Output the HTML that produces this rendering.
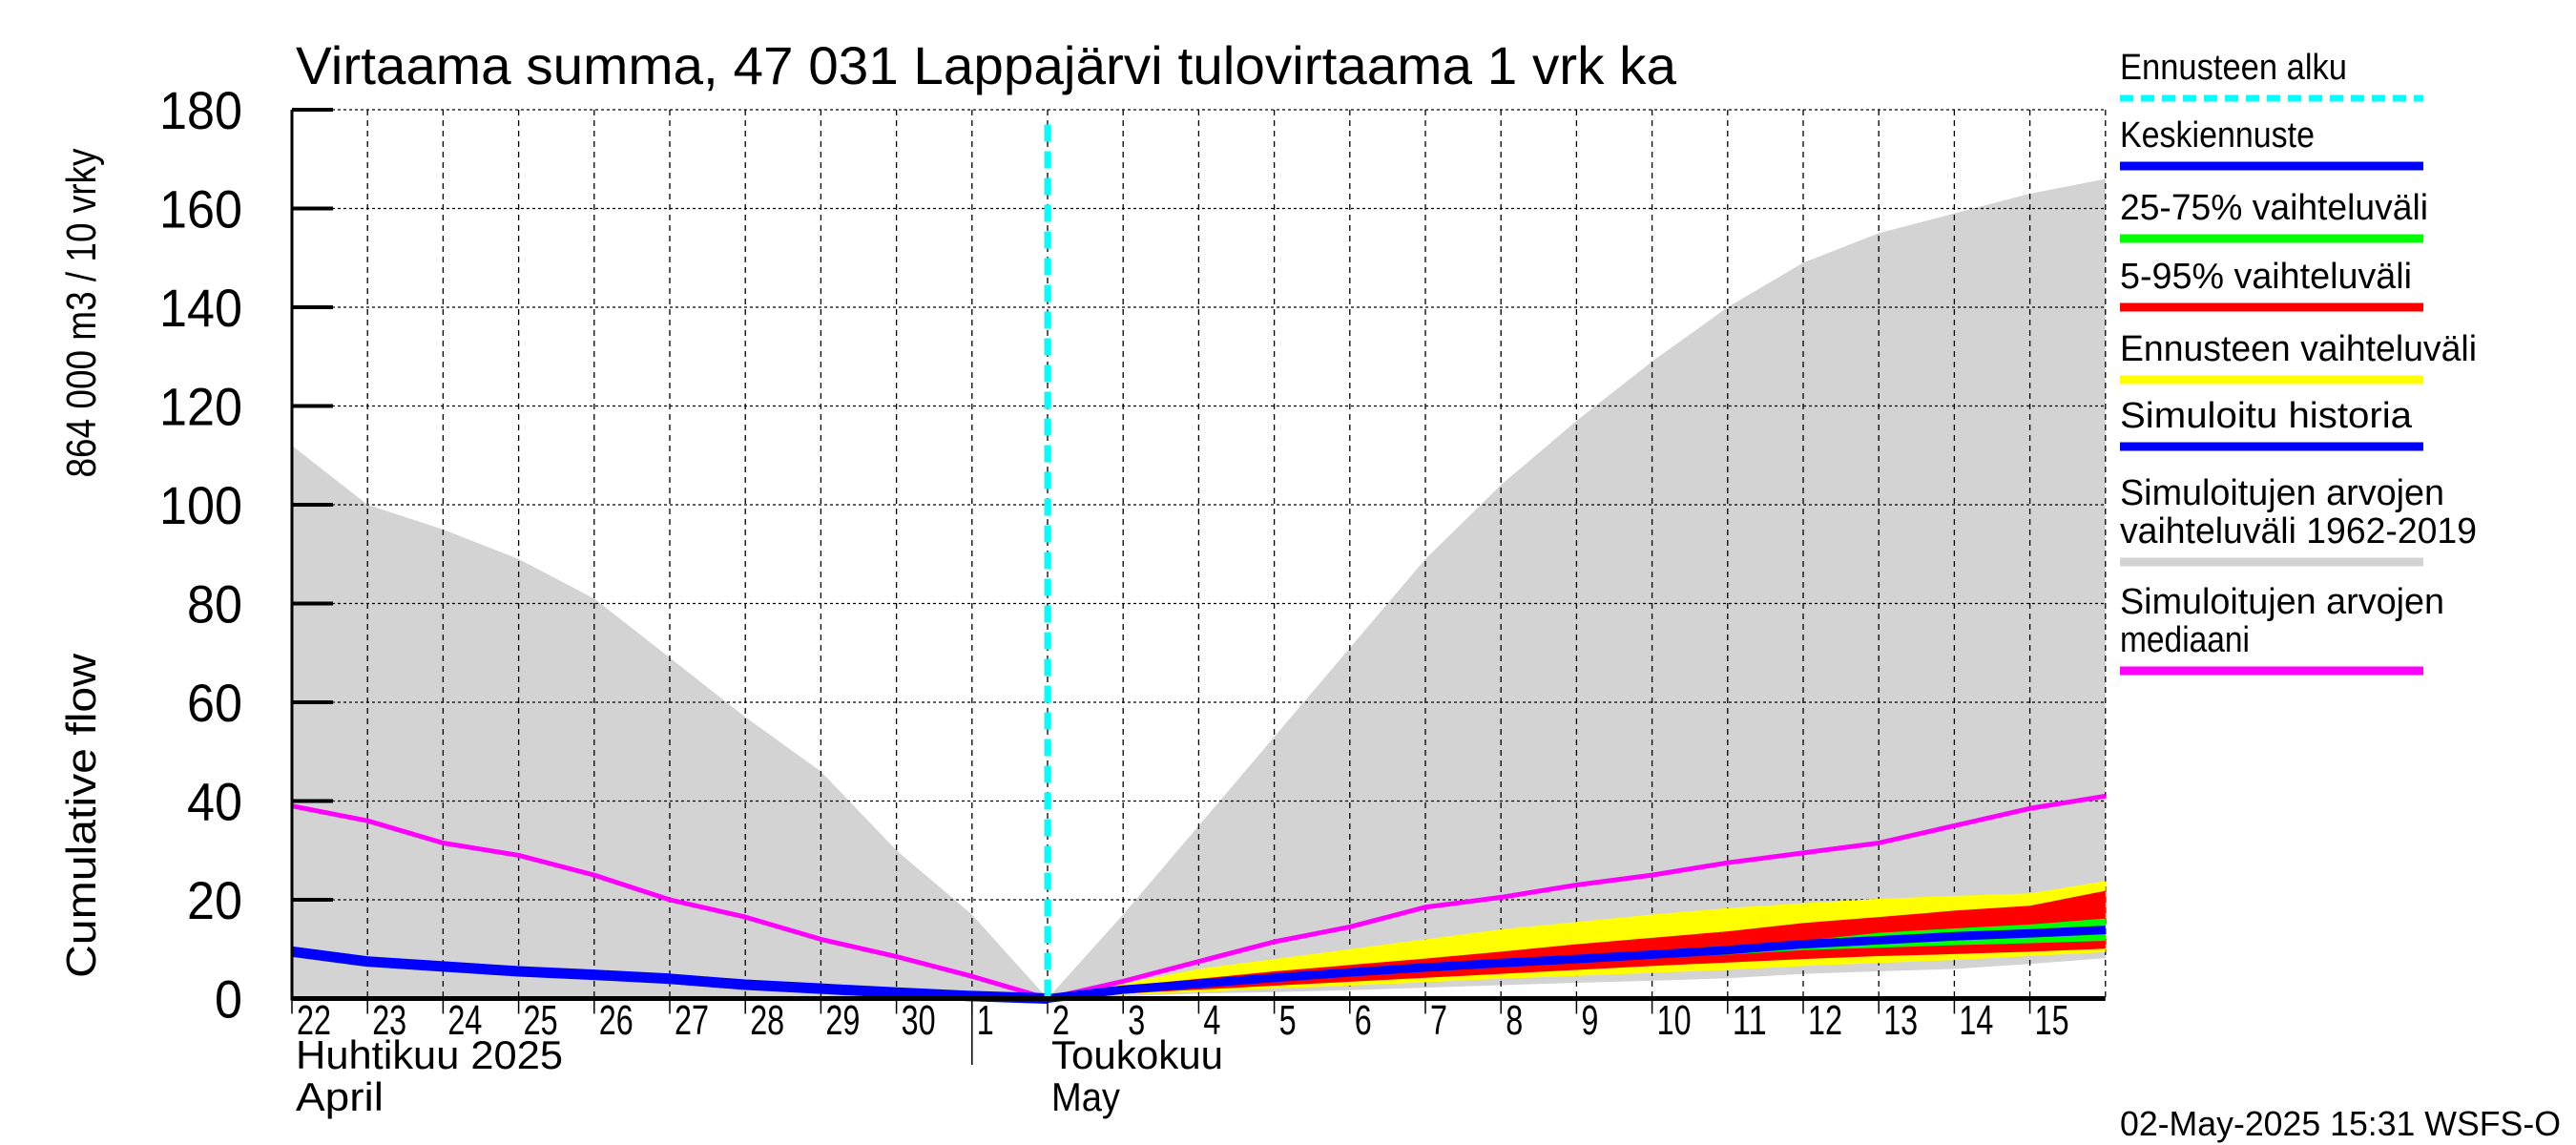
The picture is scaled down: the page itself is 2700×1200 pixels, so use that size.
<!DOCTYPE html>
<html><head><meta charset="utf-8"><style>
html,body{margin:0;padding:0;background:#fff}
svg{display:block;font-family:"Liberation Sans",sans-serif}
</style></head><body>
<svg id="chart" width="2700" height="1200" viewBox="0 0 2700 1200" xmlns="http://www.w3.org/2000/svg">
<g id="plot"></g>
<g id="axes"></g>
<g id="legend"></g>
<text x="310" y="88" font-size="56" textLength="1447" lengthAdjust="spacingAndGlyphs">Virtaama summa, 47 031 Lappajärvi tulovirtaama 1 vrk ka</text>
<text transform="translate(100,855) rotate(-90)" font-size="44" text-anchor="middle" textLength="340" lengthAdjust="spacingAndGlyphs">Cumulative flow</text>
<text transform="translate(100,328) rotate(-90)" font-size="44" text-anchor="middle" textLength="345" lengthAdjust="spacingAndGlyphs">864 000 m3 / 10 vrky</text>
<text x="2222" y="1190" font-size="36" textLength="462" lengthAdjust="spacingAndGlyphs">02-May-2025 15:31 WSFS-O</text>
</svg>
<script>
// ---- data (day index 0 = 22 April) ----
const dayLabels = ["22","23","24","25","26","27","28","29","30","1","2","3","4","5","6","7","8","9","10","11","12","13","14","15"];
const yTicks = [0,20,40,60,80,100,120,140,160,180];
const histDays = [0,1,2,3,4,5,6,7,8,9,10];
const histUpper = [112,100,95,89,81,69,57,46,30,17,0];
const histBlue = [9.5,7.5,6.5,5.5,4.8,4,2.8,2,1.2,0.5,0];
const fcDays = [10,11,12,13,14,15,16,17,18,19,20,21,22,23,24];
const fcRangeUpper = [0,17,35,53,71,89,104,117,129,140,149,155,159,163,166];
const fcRangeLower = [0,0.5,1,1.3,1.7,2.2,2.7,3.2,3.6,4.1,5,5.5,6,7,8.2];
const yellowUpper = [0,3,6,8,10,12,14,15.5,17,18.3,19.3,20.2,20.8,21.3,23.8];
const redUpper = [0,2.5,4,5.5,6.8,8.1,9.5,11,12.3,13.6,15.3,16.5,17.8,18.8,21.8];
const greenUpper = [0,2.3,3.5,4.7,5.8,6.8,7.8,8.7,9.7,10.7,11.7,13.3,14.2,15,16.2];
const meanFc = [0,1.8,3,4.2,5.3,6.3,7.2,8,8.9,9.8,11,11.8,12.6,13.2,13.9];
const greenLower = [0,1.4,2.5,3.6,4.6,5.6,6.5,7.3,8.1,8.9,9.8,10.3,10.8,11.2,11.7];
const redLower = [0,1,1.8,2.6,3.4,4.2,5,5.8,6.6,7.3,8,8.6,9,9.5,10.1];
const yellowLower = [0,0.8,1.3,2,2.6,3.3,4,4.6,5.2,5.8,6.6,7.2,7.8,8.6,9.4];
const medDays = [0,1,2,3,4,5,6,7,8,9,10,11,12,13,14,15,16,17,18,19,20,21,22,23,24];
const median = [39,36,31.5,29,25,20,16.5,12,8.5,4.5,0,3.5,7.5,11.5,14.5,18.5,20.5,23,25,27.5,29.5,31.5,35,38.5,41];
const forecastStartDay = 10;

// ---- axes ----
const X0=306, DX=79.2, Y0=1046.5, DY=5.175;
const xs = d => X0 + d*DX;
const ys = v => Y0 - v*DY;
const NS="http://www.w3.org/2000/svg";
function mk(tag, attrs, parent){const e=document.createElementNS(NS,tag);for(const k in attrs)e.setAttribute(k,attrs[k]);parent.appendChild(e);return e;}
const plot=document.getElementById('plot'), axes=document.getElementById('axes'), legend=document.getElementById('legend');

function band(days, up, lo, color, name){
  let d="M"+days.map((k,i)=>xs(k)+","+ys(up[i])).join("L");
  for(let i=days.length-1;i>=0;i--) d+="L"+xs(days[i])+","+ys(lo?lo[i]:0);
  const p=mk('path',{d:d+"Z",fill:color},plot);
  
  
}
function line(days, vals, color, w, name){
  const p=mk('polyline',{points:days.map((k,i)=>xs(k)+","+ys(vals[i])).join(" "),fill:"none",stroke:color,"stroke-width":w,"stroke-linejoin":"round"},plot);
  
  
}
band(histDays, histUpper, null, "#d3d3d3", "historical-range-band");
band(fcDays, fcRangeUpper, fcRangeLower, "#d3d3d3", "historical-range-band-forecast");
// grid
for(let k=1;k<=24;k++){
  const g=mk('line',{x1:xs(k),x2:xs(k),y1:ys(180),y2:Y0,stroke:"#000","stroke-width":1.3,"stroke-dasharray":"6,5"},plot);
  
  
}
yTicks.forEach(v=>{ if(v===0)return;
  const g=mk('line',{x1:X0,x2:xs(24),y1:ys(v),y2:ys(v),stroke:"#000","stroke-width":1.3,"stroke-dasharray":"3,3"},plot);
  
  
});
band(fcDays, yellowUpper, yellowLower, "#ffff00", "forecast-range-band");
band(fcDays, redUpper, redLower, "#ff0000", "range-5-95-band");
band(fcDays, greenUpper, greenLower, "#00ff00", "range-25-75-band");
line(medDays, median, "#ff00ff", 5, "simulated-median-line");
line(histDays, histBlue, "#0000ff", 11, "simulated-history-line");
line(fcDays, meanFc, "#0000ff", 9, "mean-forecast-line");
const cy=mk('line',{x1:xs(forecastStartDay),x2:xs(forecastStartDay),y1:ys(177),y2:Y0,stroke:"#00ffff","stroke-width":7,"stroke-dasharray":"18,10"},plot);



// axis lines
let a=mk('line',{x1:X0,x2:X0,y1:ys(180),y2:Y0+2,stroke:"#000","stroke-width":3},axes);


a=mk('line',{x1:X0,x2:xs(24),y1:Y0,y2:Y0,stroke:"#000","stroke-width":5},axes);


yTicks.forEach(v=>{
  const t=mk('line',{x1:X0,x2:X0+43,y1:ys(v),y2:ys(v),stroke:"#000","stroke-width":4},axes);
  
  
  const l=mk('text',{x:254,y:ys(v)+20,"font-size":56,"text-anchor":"end",textLength:String(v).length*29,lengthAdjust:"spacingAndGlyphs"},axes);
  l.textContent=v;
  
  
});
dayLabels.forEach((s,k)=>{
  const t=mk('line',{x1:xs(k),x2:xs(k),y1:Y0,y2:Y0+16,stroke:"#000","stroke-width":1.5},axes);
  
  
  const l=mk('text',{x:xs(k)+5,y:1084,"font-size":44,textLength:s.length*18,lengthAdjust:"spacingAndGlyphs"},axes);
  l.textContent=s;
  
  
});
a=mk('line',{x1:xs(9),x2:xs(9),y1:Y0,y2:1116,stroke:"#000","stroke-width":1.5},axes);


[["Huhtikuu  2025",310,1120,280],["April",310,1164,92],["Toukokuu",1102,1120,180],["May",1102,1164,72]].forEach(m=>{
  const l=mk('text',{x:m[1],y:m[2],"font-size":42,textLength:m[3],lengthAdjust:"spacingAndGlyphs","xml:space":"preserve"},axes);
  l.textContent=m[0];
  
  
});

// legend
const legItems=[
 [["Ennusteen alku"],103,"#00ffff",true],
 [["Keskiennuste"],174,"#0000ff"],
 [["25-75% vaihteluväli"],250,"#00ff00"],
 [["5-95% vaihteluväli"],322,"#ff0000"],
 [["Ennusteen vaihteluväli"],398,"#ffff00"],
 [["Simuloitu historia"],468,"#0000ff"],
 [["Simuloitujen arvojen","vaihteluväli 1962-2019"],589,"#d3d3d3"],
 [["Simuloitujen arvojen","mediaani"],703,"#ff00ff"]
];
legItems.forEach(it=>{
  const g=mk('g',{},legend);
  
  
  const lines=it[0];
  lines.forEach((s,i)=>{
    const yy = it[1] - 18 - (lines.length-1-i)*40 - 2;
    const t=mk('text',{x:2222,y:yy,"font-size":38,textLength:s.length*17,lengthAdjust:"spacingAndGlyphs"},g);
    t.textContent=s;
  });
  mk('line',{x1:2222,x2:2540,y1:it[1],y2:it[1],stroke:it[2],"stroke-width":it[3]?7:9,"stroke-dasharray":it[3]?"14,8":"none"},g);
});
</script>
</body></html>
